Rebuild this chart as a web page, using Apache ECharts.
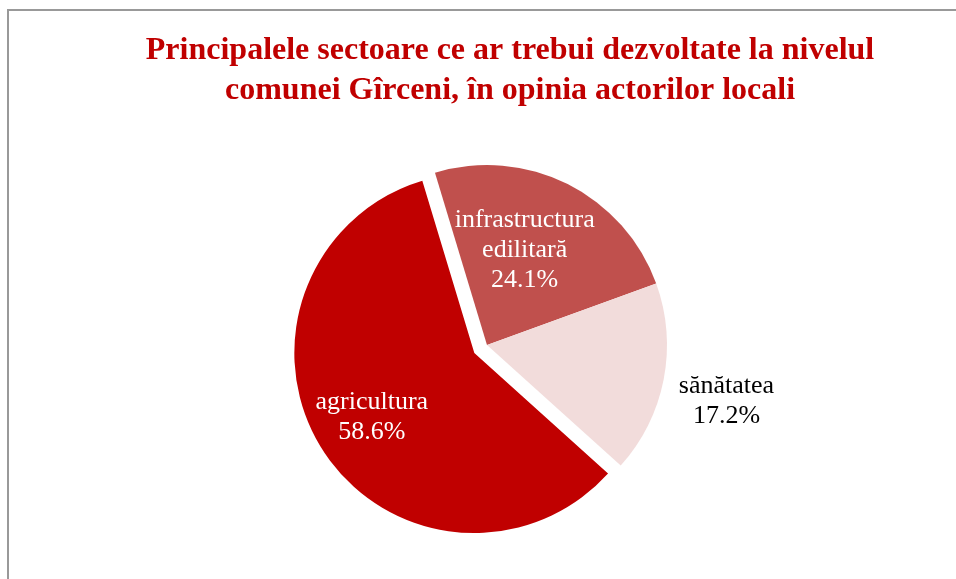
<!DOCTYPE html>
<html>
<head>
<meta charset="utf-8">
<script src="https://cdn.jsdelivr.net/npm/echarts@6/dist/echarts.min.js"></script>
<style>
html,body{margin:0;padding:0;background:#fff;}
#chart{width:956px;height:579px;}
</style>
</head>
<body>
<div id="chart"></div>
<script>
const titleLines = ['Principalele sectoare ce ar trebui dezvoltate la nivelul', 'comunei Gîrceni, în opinia actorilor locali'];
const categories = ['infrastructura\nedilitară', 'sănătatea', 'agricultura'];
const values = [24.1, 17.2, 58.6];
const colors = ['#C0504D', '#F2DCDB', '#C00000'];
const labelColors = ['#ffffff', '#000000', '#ffffff'];

const serif = "'Times New Roman', 'Liberation Serif', serif";
const chart = echarts.init(document.getElementById('chart'), null, {renderer: 'canvas'});

const data = categories.map((c, i) => ({
  name: c,
  value: values[i],
  selected: i === 2,
  itemStyle: {color: colors[i]},
  label: {
    position: i === 1 ? 'outside' : 'inside',
    color: labelColors[i]
  }
}));

const labelShift = [
  {dx: -4, dy: -12},
  {dx: 48, dy: 20},
  {dx: -24, dy: 14}
];

chart.setOption({
  animation: false,
  backgroundColor: '#ffffff',
  graphic: [
    {
      type: 'rect',
      shape: {x: 8, y: 10, width: 1000, height: 1000},
      style: {fill: 'none', stroke: '#999999', lineWidth: 2},
      silent: true
    },
    {
      type: 'text',
      x: 510,
      y: 31,
      style: {
        text: titleLines.join('\n'),
        fill: '#C00000',
        font: 'bold 32px ' + serif,
        lineHeight: 40,
        textAlign: 'center',
        textVerticalAlign: 'top'
      },
      silent: true
    }
  ],
  series: [{
    type: 'pie',
    center: [487, 345],
    radius: [0, 180],
    startAngle: 106.8,
    clockwise: true,
    selectedMode: 'single',
    selectedOffset: 15,
    avoidLabelOverlap: false,
    itemStyle: {borderWidth: 0},
    select: {itemStyle: {borderWidth: 0}},
    emphasis: {disabled: true},
    label: {
      show: true,
      formatter: p => p.name + '\n' + p.value.toFixed(1) + '%',
      fontFamily: serif,
      fontSize: 26,
      lineHeight: 30,
      align: 'center'
    },
    labelLine: {show: false, length: 10, length2: 0},
    labelLayout: function (params) {
      const s = labelShift[params.dataIndex];
      return {dx: s.dx, dy: s.dy, align: 'center'};
    },
    data: data
  }]
});
</script>
</body>
</html>
